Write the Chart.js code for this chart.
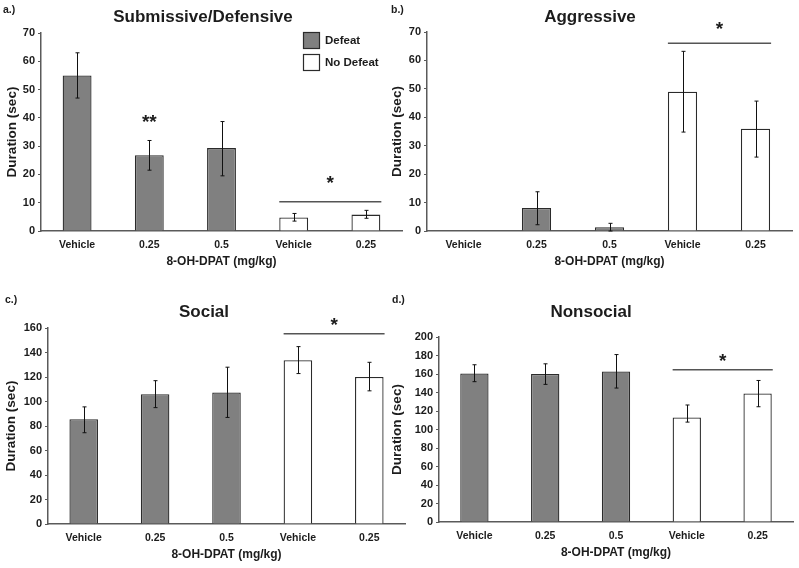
<!DOCTYPE html>
<html>
<head>
<meta charset="utf-8">
<script src="https://cdn.jsdelivr.net/npm/chart.js@4.4.1/dist/chart.umd.min.js"></script>
<style>
  html, body { margin: 0; padding: 0; background: #ffffff; }
  #wrap { position: relative; width: 799px; height: 568px; overflow: hidden; background: #fff; }
  #wrap canvas { position: absolute; left: 0; top: 0; }
</style>
</head>
<body>
<div id="wrap">
  <canvas id="cA" width="799" height="568"></canvas>
  <canvas id="cB" width="799" height="568"></canvas>
  <canvas id="cC" width="799" height="568"></canvas>
  <canvas id="cD" width="799" height="568"></canvas>
</div>
<script>
// ---------- data ----------
const categories = ['Vehicle', '0.25', '0.5', 'Vehicle', '0.25'];
const seriesNames = ['Defeat', 'No Defeat'];

// a.) Submissive/Defensive
const subDefeat   = [55.0, 26.8, 29.3, null, null];
const subNoDefeat = [null, null, null, 4.8, 5.8];
const subUpper    = [63.0, 32.0, 38.7, 6.2, 7.3];
const subLower    = [47.0, 21.5, 19.5, 3.5, 4.5];

// b.) Aggressive
const aggDefeat   = [0, 8.1, 1.3, null, null];
const aggNoDefeat = [null, null, null, 49.0, 36.0];
const aggUpper    = [null, 13.8, 2.7, 63.2, 45.7];
const aggLower    = [null, 2.2, 0.0, 34.8, 26.0];

// c.) Social
const socDefeat   = [85.6, 106.0, 107.3, null, null];
const socNoDefeat = [null, null, null, 133.7, 120.0];
const socUpper    = [95.6, 117.0, 128.0, 144.8, 132.0];
const socLower    = [74.5, 95.0, 87.0, 122.8, 108.7];

// d.) Nonsocial
const nonDefeat   = [160.6, 160.0, 162.8, null, null];
const nonNoDefeat = [null, null, null, 113.0, 139.0];
const nonUpper    = [170.0, 171.0, 181.0, 126.5, 153.0];
const nonLower    = [151.7, 148.8, 144.8, 108.0, 124.6];

// y-axis tick settings (max, step) per panel
const yMaxes  = [70, 70, 160, 200];
const ySteps  = [10, 10, 20, 20];

// significance marks: [line value, star value]
const sigA = [10.3, 18.7];
const sigB = [66.0, 72.9];
const sigC = [155.4, 166.8];
const sigD = [164.7, 179.0];
const starsA2 = 40.3; // "**" above 0.25 Defeat bar in panel a

// ---------- style ----------
const FONT = '"Liberation Sans", Arial, Helvetica, sans-serif';
const TXT = '#1c1c1c';
const AXIS = '#5a5a5a';
const GRAY = '#808080';
const EDGE = '#2b2b2b';

const annotPlugin = {
  id: 'annot',
  afterDatasetsDraw(chart, args, o) {
    const ctx = chart.ctx;
    const x = chart.scales.x, y = chart.scales.y;
    ctx.save();
    // error bars
    ctx.strokeStyle = '#111';
    ctx.lineWidth = 1;
    o.upper.forEach((u, i) => {
      if (u == null) return;
      const l = o.lower[i];
      const px = Math.round(x.getPixelForValue(i)) + 0.5;
      const p1 = y.getPixelForValue(u), p2 = y.getPixelForValue(l);
      ctx.beginPath();
      ctx.moveTo(px, p1); ctx.lineTo(px, p2);
      ctx.moveTo(px - 2, p1); ctx.lineTo(px + 2, p1);
      ctx.moveTo(px - 2, p2); ctx.lineTo(px + 2, p2);
      ctx.stroke();
    });
    // significance line
    const meta = chart.getDatasetMeta(1);
    const b3 = meta.data[3], b4 = meta.data[4];
    const x1 = b3.x - b3.width / 2, x2 = b4.x + b4.width / 2 + 1;
    const ly = y.getPixelForValue(o.sig[0]);
    ctx.strokeStyle = '#555';
    ctx.lineWidth = 1.5;
    ctx.beginPath(); ctx.moveTo(x1, ly); ctx.lineTo(x2, ly); ctx.stroke();
    ctx.fillStyle = TXT;
    ctx.font = 'bold 19px ' + FONT;
    ctx.textAlign = 'center';
    ctx.textBaseline = 'alphabetic';
    ctx.fillText('*', (x1 + x2) / 2, y.getPixelForValue(o.sig[1]) + 11);
    if (o.extraStar) {
      ctx.fillText('**', x.getPixelForValue(o.extraStar[0]), y.getPixelForValue(o.extraStar[1]) + 11);
    }
    ctx.restore();
  },
  afterDraw(chart, args, o) {
    const ctx = chart.ctx;
    ctx.save();
    ctx.fillStyle = TXT;
    ctx.textBaseline = 'middle';
    ctx.textAlign = 'center';
    ctx.font = 'bold 17px ' + FONT;
    ctx.fillText(o.title, o.titleX, o.titleY);
    ctx.textAlign = 'left';
    ctx.font = 'bold 10.5px ' + FONT;
    ctx.fillText(o.tag, o.tagX, o.tagY);
    if (o.legend) {
      const L = o.legend;
      chart.data.datasets.forEach((ds, i) => {
        const by = L.y + i * L.gap;
        ctx.fillStyle = ds.backgroundColor;
        ctx.fillRect(L.x, by, L.size, L.size);
        ctx.strokeStyle = EDGE;
        ctx.lineWidth = 1.2;
        ctx.strokeRect(L.x + 0.5, by + 0.5, L.size - 1, L.size - 1);
        ctx.fillStyle = TXT;
        ctx.font = 'bold 11.5px ' + FONT;
        ctx.fillText(ds.label, L.x + L.size + 5, by + L.size / 2);
      });
    }
    ctx.restore();
  }
};

function makeChart(id, defeat, noDefeat, upper, lower, yMax, yStep, pad, yW, sig, extra) {
  return new Chart(document.getElementById(id), {
    type: 'bar',
    data: {
      labels: categories,
      datasets: [
        { label: seriesNames[0], data: defeat, backgroundColor: GRAY, borderColor: EDGE, borderWidth: 1.3 },
        { label: seriesNames[1], data: noDefeat, backgroundColor: '#ffffff', borderColor: EDGE, borderWidth: 1.3 }
      ]
    },
    options: {
      responsive: false,
      animation: false,
      devicePixelRatio: 1,
      layout: { padding: pad },
      datasets: { bar: { grouped: false, categoryPercentage: 1.0, barPercentage: 0.4 } },
      scales: {
        x: {
          offset: true,
          grid: { display: false, drawTicks: false },
          border: { display: true, color: AXIS, width: 1.5 },
          ticks: { color: TXT, padding: 8, font: { family: FONT, size: 10.5, weight: 'bold' }, maxRotation: 0 },
          title: { display: true, text: '8-OH-DPAT (mg/kg)', color: TXT, padding: { top: 0, bottom: 2 },
                   font: { family: FONT, size: 12, weight: 'bold' } },
          afterFit: s => { s.height = 40; }
        },
        y: {
          min: 0, max: yMax,
          grid: { display: true, drawOnChartArea: false, drawTicks: true, tickLength: 3, color: AXIS, lineWidth: 1 },
          border: { display: true, color: AXIS, width: 1.5 },
          ticks: { stepSize: yStep, color: TXT, padding: 3, font: { family: FONT, size: 11, weight: 'bold' } },
          title: { display: true, text: 'Duration (sec)', color: TXT, padding: 0,
                   font: { family: FONT, size: 13.5, weight: 'bold' } },
          afterFit: s => { s.width = yW; }
        }
      },
      plugins: {
        legend: { display: false },
        tooltip: { enabled: false },
        annot: Object.assign({ upper: upper, lower: lower, sig: sig }, extra)
      }
    },
    plugins: [annotPlugin]
  });
}

makeChart('cA', subDefeat, subNoDefeat, subUpper, subLower, yMaxes[0], ySteps[0],
  { left: 4, right: 397, top: 33, bottom: 297 }, 37, sigA,
  { title: 'Submissive/Defensive', titleX: 203, titleY: 17, tag: 'a.)', tagX: 3, tagY: 10,
    extraStar: [1, starsA2], legend: { x: 303, y: 32, size: 17, gap: 22 } });

makeChart('cB', aggDefeat, aggNoDefeat, aggUpper, aggLower, yMaxes[1], ySteps[1],
  { left: 389, right: 7, top: 32, bottom: 297 }, 38, sigB,
  { title: 'Aggressive', titleX: 590, titleY: 17, tag: 'b.)', tagX: 391, tagY: 10 });

makeChart('cC', socDefeat, socNoDefeat, socUpper, socLower, yMaxes[2], ySteps[2],
  { left: 3, right: 394, top: 328, bottom: 4 }, 45, sigC,
  { title: 'Social', titleX: 204, titleY: 312, tag: 'c.)', tagX: 5, tagY: 300 });

makeChart('cD', nonDefeat, nonNoDefeat, nonUpper, nonLower, yMaxes[3], ySteps[3],
  { left: 389, right: 6, top: 337, bottom: 6 }, 50, sigD,
  { title: 'Nonsocial', titleX: 591, titleY: 312, tag: 'd.)', tagX: 392, tagY: 300 });
</script>
</body>
</html>
